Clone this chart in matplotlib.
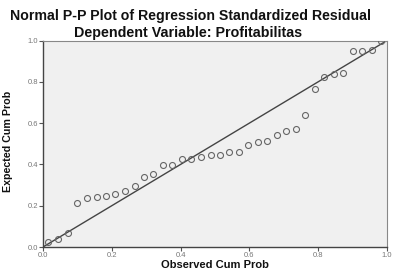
import matplotlib
matplotlib.use("Agg")
import matplotlib.pyplot as plt

observed = [0.015, 0.044, 0.072, 0.100, 0.127, 0.156, 0.183, 0.210, 0.238, 0.267,
            0.294, 0.321, 0.348, 0.376, 0.403, 0.431, 0.459, 0.488, 0.515, 0.542,
            0.570, 0.597, 0.624, 0.652, 0.679, 0.707, 0.735, 0.763, 0.791, 0.818,
            0.846, 0.873, 0.901, 0.928, 0.956, 0.983]
expected = [0.026, 0.039, 0.069, 0.215, 0.236, 0.241, 0.248, 0.258, 0.273, 0.297,
            0.338, 0.354, 0.396, 0.399, 0.426, 0.428, 0.434, 0.447, 0.447, 0.459,
            0.460, 0.494, 0.507, 0.511, 0.542, 0.563, 0.571, 0.641, 0.764, 0.822,
            0.839, 0.841, 0.948, 0.949, 0.954, 0.996]
ticks = [0.0, 0.2, 0.4, 0.6, 0.8, 1.0]
tick_labels = ["0.0", "0.2", "0.4", "0.6", "0.8", "1.0"]

plt.rcParams['font.family'] = ['Liberation Sans', 'DejaVu Sans']

fig = plt.figure(figsize=(3.97, 2.69), dpi=100)
fig.patch.set_facecolor('white')
ax = fig.add_axes([43/397, 1-247/269, 344/397, (247-40.5)/269])
ax.set_facecolor('#f0f0f0')

ax.plot([0, 1], [0, 1], color='#444444', lw=1.0, zorder=2)
ax.plot(observed, expected, linestyle='none', marker='o', markersize=4.3,
        markerfacecolor='none', markeredgecolor='#666666', markeredgewidth=0.8, zorder=3)

ax.set_xlim(0, 1)
ax.set_ylim(0, 1)
ax.set_xticks(ticks)
ax.set_xticklabels(tick_labels)
ax.set_yticks(ticks)
ax.set_yticklabels(tick_labels)
ax.tick_params(axis='both', direction='out', length=3, width=0.8, colors='#555555',
               labelsize=5.5, labelcolor='#777777', pad=0.5)
for side in ['left', 'bottom']:
    ax.spines[side].set_color('#444444')
    ax.spines[side].set_linewidth(1.0)
for side in ['top', 'right']:
    ax.spines[side].set_color('#888888')
    ax.spines[side].set_linewidth(0.8)

fig.text(215/397, 1.0/269, "Observed Cum Prob", ha='center', va='baseline',
         fontsize=8, fontweight='bold', color='#111111')
fig.text(8/397, 1-141/269, "Expected Cum Prob", ha='center', va='center', rotation=90,
         fontsize=7.7, fontweight='bold', color='#111111')

fig.text(191/397, 1-16/269, "Normal P-P Plot of Regression Standardized Residual",
         ha='center', va='center', fontsize=10.2, fontweight='bold', color='#111111')
fig.text(188.5/397, 1-33/269, "Dependent Variable: Profitabilitas",
         ha='center', va='center', fontsize=10.3, fontweight='bold', color='#111111')

fig.savefig("out.png", dpi=100)
